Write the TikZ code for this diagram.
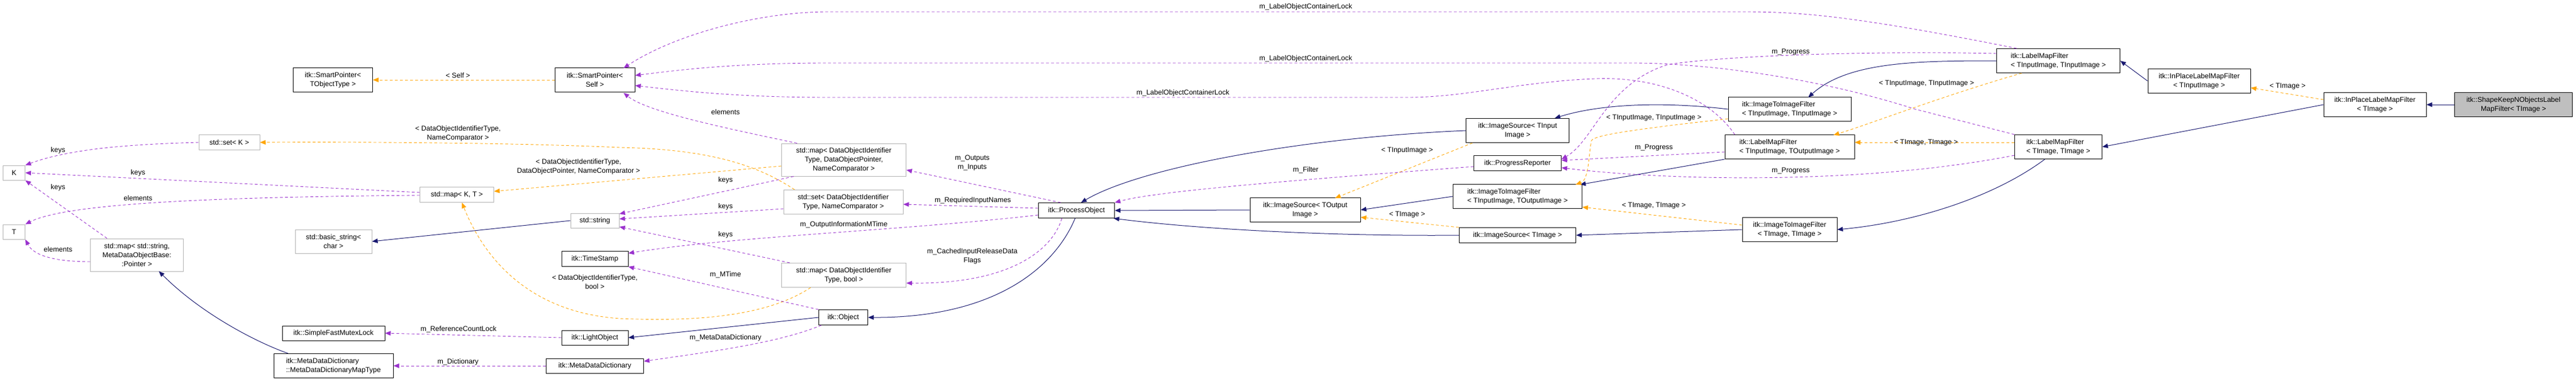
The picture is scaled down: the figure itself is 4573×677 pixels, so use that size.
\documentclass[tikz,border=0pt]{standalone}
\usepackage{fontspec}
\setmainfont{Liberation Sans}
\usetikzlibrary{arrows.meta}
\definecolor{navy}{RGB}{25,25,112}
\definecolor{violet2}{RGB}{154,50,205}
\definecolor{tplorange}{RGB}{255,165,0}
\tikzset{
  cls/.style={draw=black, line width=1pt, fill=white, inner sep=2pt, align=center,
    font=\fontsize{12.5}{16}\selectfont},
  stdcls/.style={cls, draw=black!30},
  lcls/.style={cls, align=left},
  lbl/.style={inner sep=1pt, align=center, font=\fontsize{12.5}{16}\selectfont},
  tip/.style={-{Triangle[length=10pt,width=8pt]}},
  inh/.style={tip, draw=navy, line width=1pt},
  use/.style={tip, draw=violet2, dashed, dash pattern=on 5pt off 4pt, line width=0.9pt},
  tpl/.style={tip, draw=tplorange, dashed, dash pattern=on 5pt off 4pt, line width=0.9pt},
}
\begin{document}
\begin{tikzpicture}[x=1pt, y=-1pt]
    \useasboundingbox (0,0) rectangle (4573,677);

    % right-hand filters
    \node[cls, fill=black!25, minimum width=209pt, minimum height=43pt] (shape) at (4462,186) {itk::ShapeKeepNObjectsLabel\\MapFilter< TImage >};
    \node[cls, minimum width=182pt, minimum height=43pt] (inpT) at (4216,186) {itk::InPlaceLabelMapFilter\\< TImage >};
    \node[cls, minimum width=182pt, minimum height=43pt] (inpTI) at (3904,144) {itk::InPlaceLabelMapFilter\\< TInputImage >};
    \node[lcls, minimum width=219pt, minimum height=43pt] (lmfTI) at (3654,108) {itk::LabelMapFilter\\< TInputImage, TInputImage >};
    \node[lcls, minimum width=155pt, minimum height=43pt] (lmfT) at (3654,261) {itk::LabelMapFilter\\< TImage, TImage >};
    \node[lcls, minimum width=218pt, minimum height=43pt] (itiTI) at (3177,194) {itk::ImageToImageFilter\\< TInputImage, TInputImage >};
    \node[lcls, minimum width=230pt, minimum height=43pt] (lmfTO) at (3177,261) {itk::LabelMapFilter\\< TInputImage, TOutputImage >};
    \node[cls, minimum width=168pt, minimum height=43pt] (itiT) at (3177,408) {itk::ImageToImageFilter\\< TImage, TImage >};

    % sources and process object
    \node[cls, minimum width=183pt, minimum height=43pt] (srcTI) at (2694,232) {itk::ImageSource< TInput\\Image >};
    \node[cls, minimum width=155pt, minimum height=27pt] (prog) at (2694,290) {itk::ProgressReporter};
    \node[lcls, minimum width=229pt, minimum height=43pt] (itiTO) at (2694,349) {itk::ImageToImageFilter\\< TInputImage, TOutputImage >};
    \node[cls, minimum width=207pt, minimum height=27pt] (srcT) at (2694,418) {itk::ImageSource< TImage >};
    \node[cls, minimum width=196pt, minimum height=43pt] (srcTO) at (2317,373) {itk::ImageSource< TOutput\\Image >};
    \node[cls, minimum width=135pt, minimum height=27pt] (proc) at (1911,374) {itk::ProcessObject};
    \node[cls, minimum width=87pt, minimum height=27pt] (obj) at (1497,564) {itk::Object};

    % containers
    \node[stdcls, minimum width=221pt, minimum height=58pt] (mapDOP) at (1498,284) {std::map< DataObjectIdentifier\\Type, DataObjectPointer,\\NameComparator >};
    \node[stdcls, minimum width=212pt, minimum height=43pt] (setDO) at (1497,359) {std::set< DataObjectIdentifier\\Type, NameComparator >};
    \node[stdcls, minimum width=221pt, minimum height=43pt] (mapDB) at (1498,489) {std::map< DataObjectIdentifier\\Type, bool >};

    % left part
    \node[cls, minimum width=141pt, minimum height=43pt] (spObj) at (591,142) {itk::SmartPointer<\\TObjectType >};
    \node[cls, minimum width=142pt, minimum height=43pt] (spSelf) at (1056,142) {itk::SmartPointer<\\Self >};
    \node[stdcls, minimum width=108pt, minimum height=27pt] (setK) at (407,253) {std::set< K >};
    \node[stdcls, minimum width=39pt, minimum height=26pt] (tK) at (25,307) {K};
    \node[stdcls, minimum width=39pt, minimum height=26pt] (tT) at (25,412) {T};
    \node[stdcls, minimum width=131pt, minimum height=27pt] (mapKT) at (811,346) {std::map< K, T >};
    \node[stdcls, minimum width=86pt, minimum height=26pt] (str) at (1056,392) {std::string};
    \node[stdcls, minimum width=136pt, minimum height=42pt] (bstr) at (592,429) {std::basic\_string<\\char >};
    \node[cls, minimum width=118pt, minimum height=27pt] (stamp) at (1056,460) {itk::TimeStamp};
    \node[stdcls, minimum width=165pt, minimum height=58pt] (mapSS) at (243,453) {std::map< std::string,\\MetaDataObjectBase:\\:Pointer >};
    \node[cls, minimum width=182pt, minimum height=26pt] (mutex) at (592,592) {itk::SimpleFastMutexLock};
    \node[cls, minimum width=118pt, minimum height=26pt] (light) at (1056,600) {itk::LightObject};
    \node[lcls, minimum width=212pt, minimum height=43pt] (mdmap) at (592,650) {itk::MetaDataDictionary\\::MetaDataDictionaryMapType};
    \node[cls, minimum width=173pt, minimum height=26pt] (mdd) at (1056,650) {itk::MetaDataDictionary};

    % inheritance
    \draw[inh] (shape) -- (inpT);
    \draw[inh] (inpT.west) -- (lmfT.east);
    \draw[inh] (inpTI.west) -- (lmfTI.east);
    \draw[inh] (lmfTI.west) .. controls (3400,108) and (3280,110) .. (3210,173);
    \draw[inh] (lmfT.south) ++(-24,0) .. controls (3540,350) and (3400,395) .. (itiT.east);
    \draw[inh] (itiTI.west) .. controls (2950,180) and (2840,185) .. (2760,210);
    \draw[inh] (lmfTO.south west) -- (2805,328);
    \draw[inh] (itiT.west) -- (srcT.east);
    \draw[inh] (itiTO.west) -- (srcTO.east);
    \draw[inh] (srcTI.west) .. controls (2300,245) and (2020,300) .. (proc.60);
    \draw[inh] (srcTO.west) -- (proc.east);
    \draw[inh] (srcT.west) .. controls (2400,420) and (2150,410) .. (proc.-12);
    \draw[inh] (proc.-100) .. controls (1870,480) and (1760,565) .. (obj.east);
    \draw[inh] (obj.west) -- (light.east);
    \draw[inh] (str.west) -- (bstr.east);
    \draw[inh] (mdmap.north west) ++(26,0) .. controls (460,610) and (360,560) .. (282,482);

    % template instances
    \draw[tpl] (inpT.west |- 0,177) -- (inpTI.east |- 0,156);
    \node[lbl] (l1) at (4061,153) {< TImage >};
    \draw[tpl] (lmfT.west |- 0,253) -- (lmfTO.east |- 0,253);
    \node[lbl] (l2) at (3419,253) {< TImage, TImage >};
    \draw[tpl] (lmfTI.south west) ++(45,0) .. controls (3450,170) and (3320,220) .. (3255,240);
    \node[lbl] (l3) at (3420,148) {< TInputImage, TInputImage >};
    \draw[tpl] (itiT.west |- 0,400) -- (itiTO.east |- 0,368);
    \node[lbl] (l4) at (2936,365) {< TImage, TImage >};
    \draw[tpl] (itiTI.south west) ++(0,-5) .. controls (2900,230) and (2830,240) .. (2825,250) .. controls (2820,280) and (2820,320) .. (2797,328);
    \node[lbl] (l5) at (2936,209) {< TInputImage, TInputImage >};
    \draw[tpl] (srcT.north west) -- (srcTO.east |- 0,386);
    \node[lbl] (l6) at (2498,381) {< TImage >};
    \draw[tpl] (srcTI.south west) ++(12,0) -- (2370,352);
    \node[lbl] (l7) at (2498,267) {< TInputImage >};
    \draw[tpl] (spSelf.west) -- (spObj.east);
    \node[lbl] (l8) at (813,134) {< Self >};
    \draw[tpl] (setDO.north west) ++(20,0) .. controls (1340,290) and (1250,265) .. (1100,262) .. controls (900,253) and (600,252) .. (setK.east);
    \node[lbl] (l9) at (813,237) {< DataObjectIdentifierType,\\NameComparator >};
    \draw[tpl] (mapDOP.west |- 0,295) -- (mapKT.east |- 0,340);
    \node[lbl] (l10) at (1027,296) {< DataObjectIdentifierType,\\DataObjectPointer, NameComparator >};
    \draw[tpl] (mapDB.south west) ++(52,0) .. controls (1350,570) and (1200,570) .. (1100,566) .. controls (940,555) and (860,460) .. (820,360);
    \node[lbl] (l11) at (1056,501) {< DataObjectIdentifierType,\\bool >};

    % usage
    \draw[use] (lmfTI.north west) ++(36,0) .. controls (3300,30) and (3200,21) .. (3100,21) -- (1470,21) .. controls (1350,21) and (1200,60) .. (1107,121);
    \node[lbl] (u1) at (2318,12) {m\_LabelObjectContainerLock};
    \draw[use] (lmfT.north west) -- (3400,194) .. controls (3200,130) and (3000,112) .. (2900,112) -- (1470,112) .. controls (1300,112) and (1200,125) .. (spSelf.east |- 0,134);
    \node[lbl] (u2) at (2318,104) {m\_LabelObjectContainerLock};
    \draw[use] (lmfTO.north west) ++(18,0) .. controls (3040,180) and (2950,135) .. (2830,140) .. controls (2700,145) and (2600,173) .. (2500,173) -- (1470,173) .. controls (1300,173) and (1200,160) .. (spSelf.east |- 0,152);
    \node[lbl] (u3) at (2100,165) {m\_LabelObjectContainerLock};
    \draw[use] (mapDOP.north west) ++(28,0) .. controls (1300,230) and (1150,200) .. (1107,165);
    \node[lbl] (u4) at (1288,199) {elements};
    \draw[use] (lmfTI.west |- 0,95) .. controls (3300,90) and (3050,100) .. (2960,115) .. controls (2850,150) and (2830,250) .. (prog.east |- 0,283);
    \node[lbl] (u5) at (3179,92) {m\_Progress};
    \draw[use] (lmfTO.west |- 0,270) -- (prog.east |- 0,285);
    \node[lbl] (u6) at (2936,262) {m\_Progress};
    \draw[use] (lmfT.west |- 0,276) .. controls (3300,330) and (2950,320) .. (prog.east |- 0,298);
    \node[lbl] (u7) at (3179,303) {m\_Progress};
    \draw[use] (prog.west |- 0,296) .. controls (2300,320) and (2050,340) .. (proc.north east);
    \node[lbl] (u8) at (2318,302) {m\_Filter};
    \draw[use] (proc.north west) ++(40,0) -- (mapDOP.east |- 0,302);
    \node[lbl] (u9) at (1726,289) {m\_Outputs\\m\_Inputs};
    \draw[use] (proc.west |- 0,370) -- (setDO.east |- 0,363);
    \node[lbl] (u10) at (1727,356) {m\_RequiredInputNames};
    \draw[use] (proc.west |- 0,382) .. controls (1600,410) and (1300,420) .. (stamp.east |- 0,450);
    \node[lbl] (u11) at (1498,399) {m\_OutputInformationMTime};
    \draw[use] (proc.south west) ++(42,0) .. controls (1870,440) and (1800,505) .. (mapDB.east |- 0,503);
    \node[lbl] (u12) at (1726,455) {m\_CachedInputReleaseData\\Flags};
    \draw[use] (mapDOP.south west) ++(22,0) -- (str.east |- 0,380);
    \node[lbl] (u13) at (1288,320) {keys};
    \draw[use] (setDO.west |- 0,371) -- (str.east |- 0,389);
    \node[lbl] (u14) at (1288,367) {keys};
    \draw[use] (mapDB.north west) ++(15,0) -- (str.east |- 0,403);
    \node[lbl] (u15) at (1288,417) {keys};
    \draw[use] (obj.north west) -- (stamp.south east);
    \node[lbl] (u16) at (1288,488) {m\_MTime};
    \draw[use] (obj.south west) ++(5,0) .. controls (1380,610) and (1260,625) .. (mdd.east |- 0,642);
    \node[lbl] (u17) at (1288,600) {m\_MetaDataDictionary};
    \draw[use] (light.west) -- (mutex.east);
    \node[lbl] (u18) at (814,585) {m\_ReferenceCountLock};
    \draw[use] (mdd.west) -- (mdmap.east);
    \node[lbl] (u19) at (813,643) {m\_Dictionary};
    \draw[use] (setK.west) .. controls (250,256) and (130,262) .. (tK.north east);
    \node[lbl] (u20) at (103,267) {keys};
    \draw[use] (mapKT.west |- 0,342) -- (tK.east);
    \node[lbl] (u21) at (245,307) {keys};
    \draw[use] (mapKT.west |- 0,347) .. controls (400,350) and (120,360) .. (tT.north east);
    \node[lbl] (u22) at (245,352) {elements};
    \draw[use] (mapSS.north west) ++(30,0) -- (tK.south east);
    \node[lbl] (u23) at (103,333) {keys};
    \draw[use] (mapSS.west |- 0,465) .. controls (100,465) and (60,455) .. (tT.south east);
    \node[lbl] (u24) at (103,443) {elements};
\end{tikzpicture}
\end{document}
